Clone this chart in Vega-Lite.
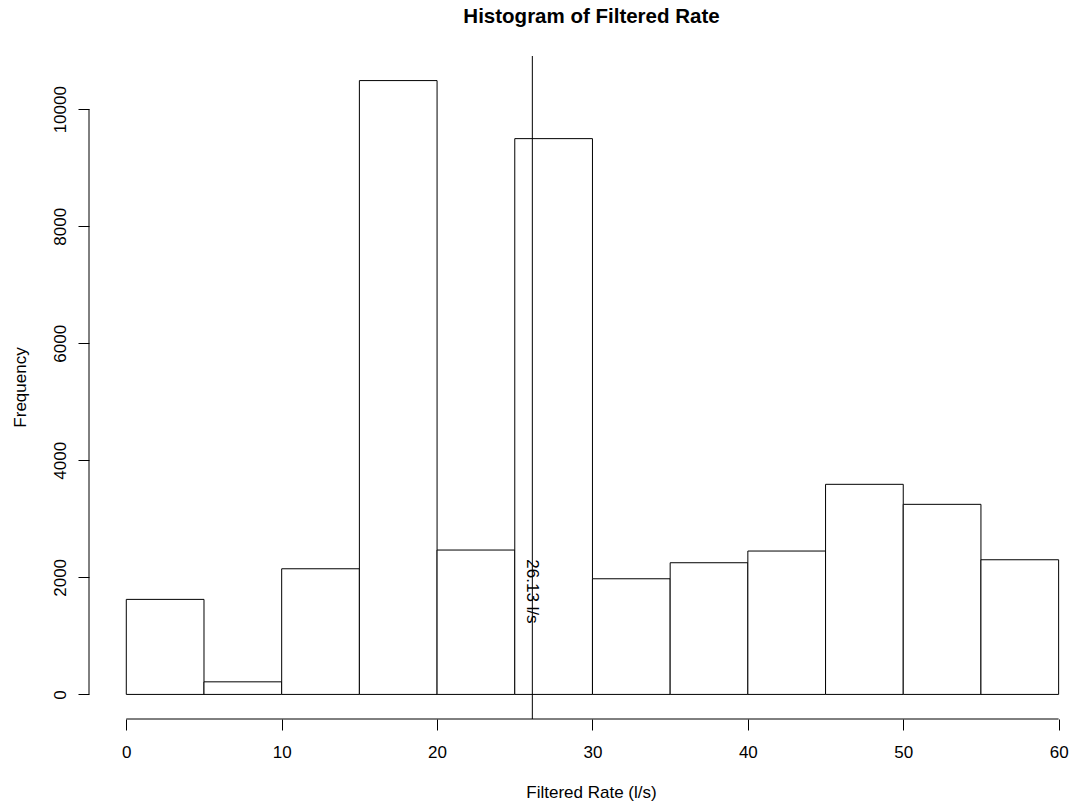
{
  "$schema": "https://vega.github.io/schema/vega-lite/v6.json",
  "width": 983,
  "height": 663,
  "autosize": "none",
  "padding": {"left": 89, "top": 56, "right": 0, "bottom": 86},
  "background": "white",
  "title": {
    "text": "Histogram of Filtered Rate",
    "font": "Liberation Sans",
    "fontSize": 20.5,
    "fontWeight": "bold",
    "color": "black",
    "anchor": "middle",
    "dx": 11,
    "baseline": "alphabetic",
    "offset": 12
  },
  "config": {
    "view": {"stroke": null},
    "font": "Liberation Sans"
  },
  "layer": [
    {
      "data": {
        "values": [
          {"bin_start": 0, "bin_end": 5, "count": 1624},
          {"bin_start": 5, "bin_end": 10, "count": 215},
          {"bin_start": 10, "bin_end": 15, "count": 2147},
          {"bin_start": 15, "bin_end": 20, "count": 10489},
          {"bin_start": 20, "bin_end": 25, "count": 2467},
          {"bin_start": 25, "bin_end": 30, "count": 9497},
          {"bin_start": 30, "bin_end": 35, "count": 1976},
          {"bin_start": 35, "bin_end": 40, "count": 2250},
          {"bin_start": 40, "bin_end": 45, "count": 2450},
          {"bin_start": 45, "bin_end": 50, "count": 3590},
          {"bin_start": 50, "bin_end": 55, "count": 3248},
          {"bin_start": 55, "bin_end": 60, "count": 2301}
        ]
      },
      "mark": {"type": "rect", "fill": "white", "stroke": "black", "strokeWidth": 1},
      "encoding": {
        "x": {
          "field": "bin_start",
          "type": "quantitative",
          "scale": {"domain": [-2.4, 60.86], "nice": false, "zero": false},
          "axis": {
            "title": "Filtered Rate (l/s)",
            "values": [0, 10, 20, 30, 40, 50, 60],
            "domain": false,
            "grid": false,
            "tickSize": 11,
            "tickColor": "black",
            "tickWidth": 1,
            "labelFont": "Liberation Sans",
            "labelFontSize": 17,
            "labelColor": "black",
            "labelBaseline": "alphabetic",
            "labelPadding": 27,
            "labelFlush": false,
            "labelOverlap": false,
            "titleFont": "Liberation Sans",
            "titleFontSize": 17,
            "titleFontWeight": "normal",
            "titleColor": "black",
            "titleX": 502,
            "titleY": 78,
            "titleAlign": "center",
            "titleBaseline": "alphabetic"
          }
        },
        "x2": {"field": "bin_end"},
        "y": {
          "field": "count",
          "type": "quantitative",
          "scale": {"domain": [-420, 10909], "nice": false, "zero": false},
          "axis": {
            "title": "Frequency",
            "values": [0, 2000, 4000, 6000, 8000, 10000],
            "format": "d",
            "domain": false,
            "grid": false,
            "tickSize": 11,
            "tickColor": "black",
            "tickWidth": 1,
            "labelFont": "Liberation Sans",
            "labelFontSize": 17,
            "labelColor": "black",
            "labelAngle": -90,
            "labelAlign": "center",
            "labelBaseline": "alphabetic",
            "labelPadding": 13,
            "labelFlush": false,
            "labelOverlap": false,
            "titleFont": "Liberation Sans",
            "titleFontSize": 17,
            "titleFontWeight": "normal",
            "titleColor": "black",
            "titleAngle": -90,
            "titleX": -64,
            "titleY": 331,
            "titleAlign": "center",
            "titleBaseline": "alphabetic"
          }
        },
        "y2": {"datum": 0}
      }
    },
    {
      "data": {"values": [{}]},
      "mark": {"type": "rule", "color": "black", "strokeWidth": 1},
      "encoding": {
        "x": {"datum": 0},
        "x2": {"datum": 60},
        "y": {"datum": -420}
      }
    },
    {
      "data": {"values": [{}]},
      "mark": {"type": "rule", "color": "black", "strokeWidth": 1},
      "encoding": {
        "y": {"datum": 0},
        "y2": {"datum": 10000},
        "x": {"datum": -2.4}
      }
    },
    {
      "data": {"values": [{"rate": 26.13, "label": "26.13 l/s"}]},
      "layer": [
        {
          "mark": {"type": "rule", "color": "black", "strokeWidth": 1},
          "encoding": {
            "x": {"field": "rate", "type": "quantitative", "title": "Filtered Rate (l/s)"}
          }
        },
        {
          "mark": {
            "type": "text",
            "angle": 90,
            "align": "center",
            "baseline": "middle",
            "font": "Liberation Sans",
            "fontSize": 17,
            "color": "black"
          },
          "encoding": {
            "x": {"field": "rate", "type": "quantitative", "title": "Filtered Rate (l/s)"},
            "y": {"datum": 1760},
            "text": {"field": "label"}
          }
        }
      ]
    }
  ]
}
